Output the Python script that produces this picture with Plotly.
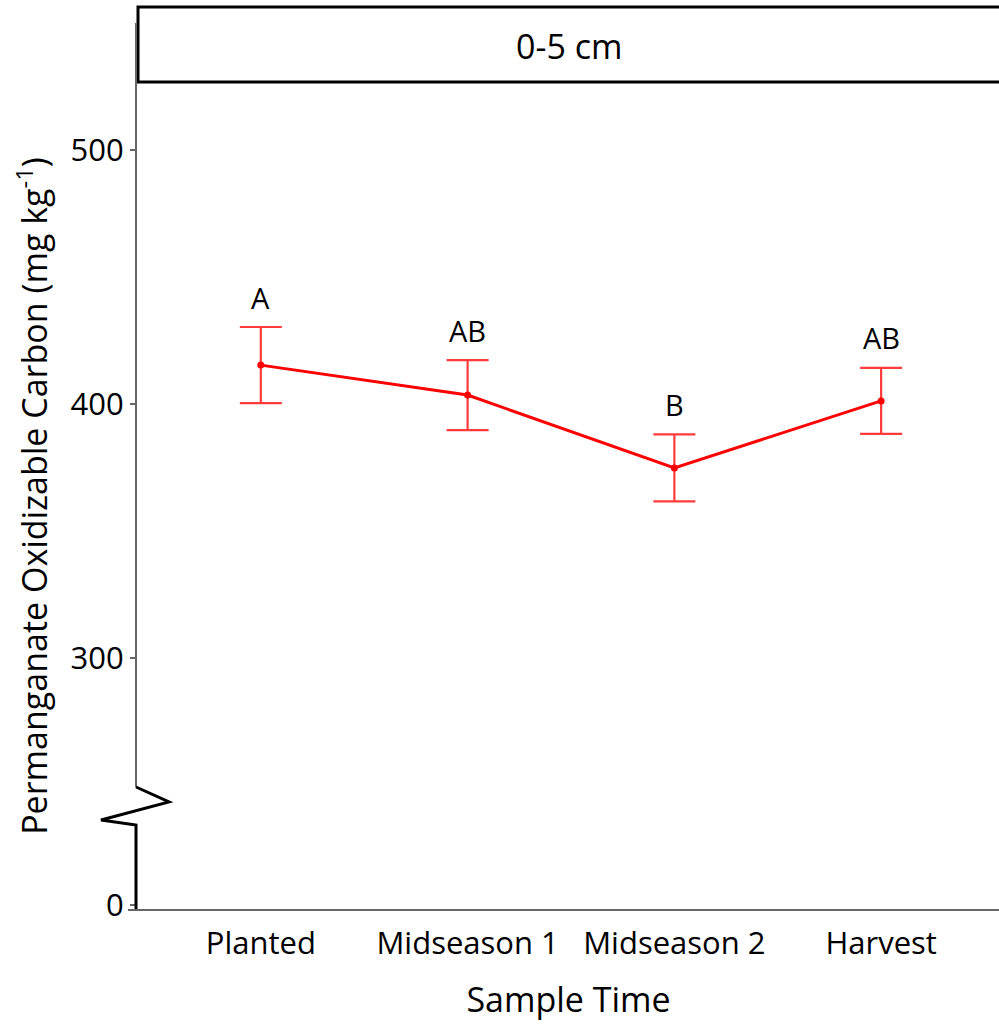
import plotly.graph_objects as go

# Data
sample_times = ["Planted", "Midseason 1", "Midseason 2", "Harvest"]
poxc_mean = [415.3, 403.5, 374.8, 401.2]
poxc_se = [15.0, 13.8, 13.2, 13.0]
letters = ["A", "AB", "B", "AB"]

# Axis break: "0" label shown at the bottom of the broken axis
y_tick_vals = [202.5, 300, 400, 500]
y_tick_text = ["0", "300", "400", "500"]
y_range = [200.7, 526.8]

FONT = "Open Sans"
RED = "#ff0000"
ERR_RED = "#ff3b3b"
GREY = "#666666"

fig = go.Figure()
fig.add_trace(go.Scatter(
    x=sample_times, y=poxc_mean,
    mode="lines+markers",
    line=dict(color=RED, width=3),
    marker=dict(color=RED, size=7),
    error_y=dict(type="data", array=poxc_se, visible=True,
                 color=ERR_RED, thickness=2.2, width=21),
    showlegend=False,
))

for t, m, s, lab in zip(sample_times, poxc_mean, poxc_se, letters):
    fig.add_annotation(x=t, y=m + s, text=lab, showarrow=False,
                       yanchor="middle", yshift=30,
                       font=dict(family=FONT, size=29, color="black"))

W, H = 999, 1029
ml, mr, mt, mb = 138, 0, 82, 119
pw, ph = W - ml - mr, H - mt - mb

def px_x(p):
    return (p - ml) / pw

def px_y(p):
    return (H - mb - p) / ph

shapes = []
# strip box
shapes.append(dict(type="rect", xref="paper", yref="paper",
                   x0=0, x1=1.02, y0=1, y1=px_y(7),
                   line=dict(color="black", width=3), fillcolor="white", layer="above"))
# y axis upper part (grey)
shapes.append(dict(type="line", xref="paper", yref="paper",
                   x0=px_x(136), x1=px_x(136), y0=px_y(23), y1=px_y(787),
                   line=dict(color=GREY, width=2)))
# break zigzag and lower part (black)
zig = "M {a},{b} L {c},{d} L {e},{f} L {g},{h} L {i},{j}".format(
    a=px_x(136), b=px_y(787),
    c=px_x(169), d=px_y(802),
    e=px_x(101), f=px_y(820),
    g=px_x(136), h=px_y(825),
    i=px_x(136), j=px_y(910))
shapes.append(dict(type="path", xref="paper", yref="paper", path=zig,
                   line=dict(color="black", width=3)))
# x axis line
shapes.append(dict(type="line", xref="paper", yref="paper",
                   x0=px_x(128), x1=1.01, y0=0, y1=0,
                   line=dict(color=GREY, width=2)))
fig.update_layout(shapes=shapes)

fig.add_annotation(xref="paper", yref="paper", x=0.5, y=px_y(46),
                   text="0-5 cm", showarrow=False, yanchor="middle",
                   font=dict(family=FONT, size=34, color="black"))

fig.update_layout(
    width=W, height=H,
    margin=dict(l=ml, r=mr, t=mt, b=mb),
    paper_bgcolor="white", plot_bgcolor="white",
    font=dict(family=FONT, color="black"),
    xaxis=dict(
        range=[-0.594, 3.57],
        showgrid=False, zeroline=False, showline=False,
        ticks="", ticklabelstandoff=12,
        tickfont=dict(family=FONT, size=31, color="black"),
        title=dict(text="Sample Time", font=dict(family=FONT, size=34, color="black"), standoff=26),
    ),
    yaxis=dict(
        range=y_range,
        tickmode="array", tickvals=y_tick_vals, ticktext=y_tick_text,
        showgrid=False, zeroline=False, showline=False,
        ticks="outside", ticklen=7, tickwidth=2, tickcolor=GREY,
        tickfont=dict(family=FONT, size=31, color="black"),
        title=dict(text="Permanganate Oxidizable Carbon (mg kg<sup>-1</sup>)",
                   font=dict(family=FONT, size=34, color="black"), standoff=12),
    ),
)

fig.write_html("out.html")
